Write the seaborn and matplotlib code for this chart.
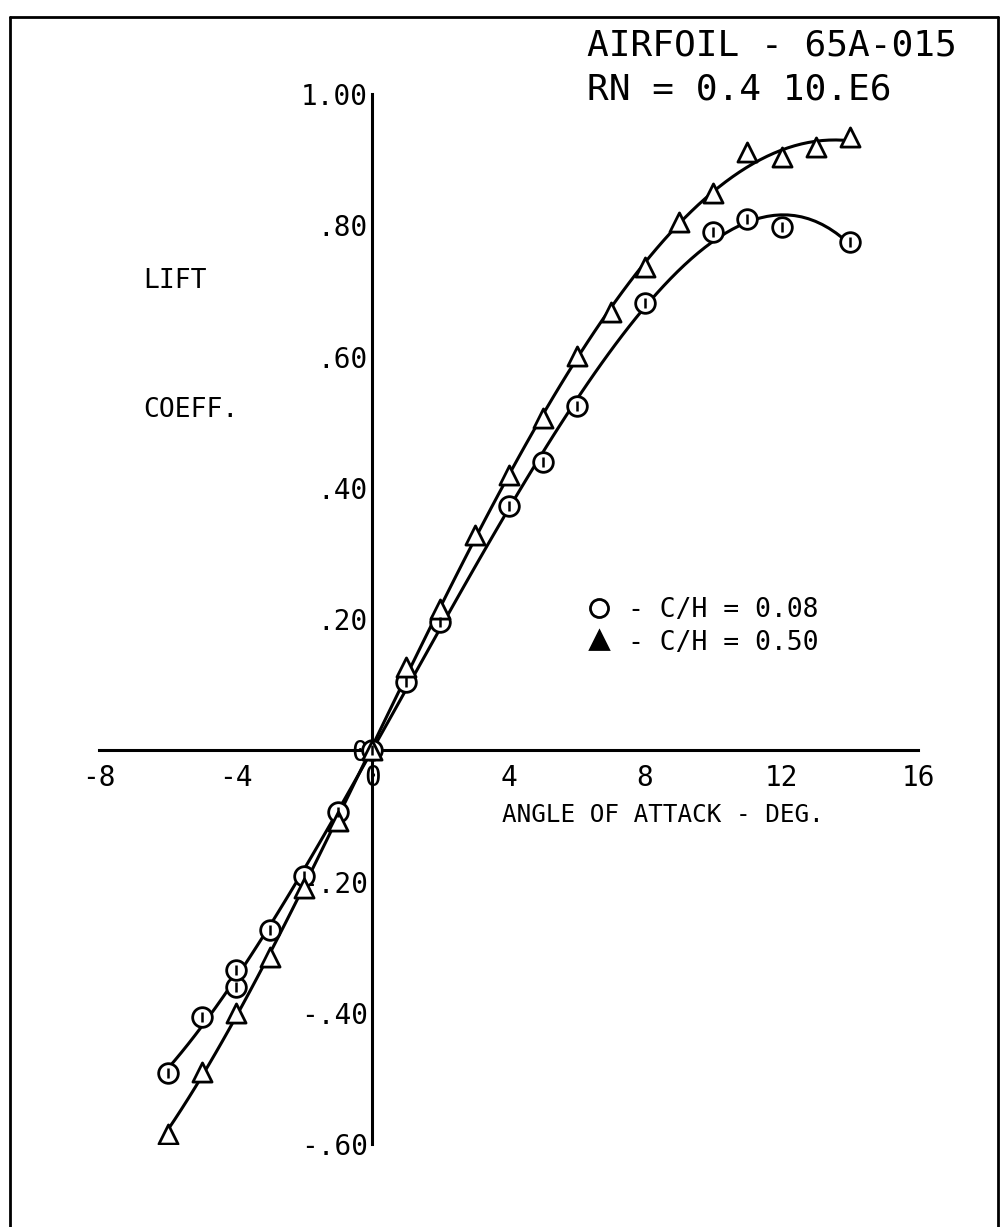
import numpy as np
import pandas as pd
import seaborn as sns
import matplotlib.pyplot as plt
from matplotlib.lines import Line2D

# lift coefficient readings, C/H = 0.08 (circles)
alpha_08 = [-6, -5, -4, -4, -3, -2, -1, 0, 1, 2, 4, 5, 6, 8, 10, 11, 12, 14]
cl_08 = [-0.492, -0.407, -0.360, -0.334, -0.274, -0.191, -0.094, 0.0, 0.104, 0.196,
         0.372, 0.439, 0.524, 0.682, 0.790, 0.810, 0.798, 0.775]

# C/H = 0.50 (triangles)
alpha_50 = [-6, -5, -4, -3, -2, -1, 0, 1, 2, 3, 4, 5, 6, 7, 8, 9, 10, 11, 12, 13, 14]
cl_50 = [-0.584, -0.490, -0.401, -0.315, -0.210, -0.107, 0.0, 0.127, 0.216, 0.328,
         0.419, 0.506, 0.601, 0.668, 0.737, 0.805, 0.849, 0.912, 0.904, 0.919, 0.934]

x_ticks = [-8, -4, 0, 4, 8, 12, 16]
x_labels = ['-8', '-4', '0', '4', '8', '12', '16']
y_ticks = [-0.6, -0.4, -0.2, 0.0, 0.2, 0.4, 0.6, 0.8, 1.0]
y_labels = ['-.60', '-.40', '-.20', '0', '.20', '.40', '.60', '.80', '1.00']

sns.set_style('white')
plt.rcParams['font.family'] = ['DejaVu Sans Mono']
plt.rcParams['text.color'] = 'black'

fig = plt.figure(figsize=(10.01, 12.27), dpi=100)
ax = fig.add_axes([0.0992, 0.0676, 0.8179, 0.8557])

# faired curves
sns.regplot(x=alpha_08, y=cl_08, order=5, scatter=False, ci=None, ax=ax,
            color='black', line_kws={'lw': 2.2})
sns.regplot(x=alpha_50, y=cl_50, order=5, scatter=False, ci=None, ax=ax,
            color='black', line_kws={'lw': 2.2})

# symbols
sns.scatterplot(x=alpha_08, y=cl_08, marker='o', s=200, facecolors='white',
                edgecolors='black', linewidths=2, ax=ax, zorder=3)
sns.scatterplot(x=alpha_08, y=cl_08, marker='|', s=45, color='black',
                linewidths=1.8, ax=ax, zorder=4)
sns.scatterplot(x=alpha_50, y=cl_50, marker='^', s=190, facecolors='white',
                edgecolors='black', linewidths=2, ax=ax, zorder=3)

ax.set_xlim(-8, 16)
ax.set_ylim(-0.6, 1.0)
for s in ['top', 'right']:
    ax.spines[s].set_visible(False)
ax.spines['left'].set_position(('data', 0))
ax.spines['bottom'].set_position(('data', 0))
for s in ['left', 'bottom']:
    ax.spines[s].set_linewidth(2.2)
    ax.spines[s].set_color('black')

ax.set_xticks(x_ticks)
ax.set_xticklabels(x_labels)
ax.set_yticks(y_ticks)
ax.set_yticklabels(y_labels)
ax.tick_params(axis='both', direction='in', length=7, width=2, colors='black',
               labelsize=20)
ax.tick_params(axis='x', pad=10)
ax.tick_params(axis='y', pad=3)
ax.set_xlabel('')
ax.set_ylabel('')

ax.text(3.8, -0.098, 'ANGLE OF ATTACK - DEG.', fontsize=17.5, va='center', ha='left')

fig.text(0.5864, 0.9633, 'AIRFOIL - 65A-015', fontsize=26, va='center', ha='left')
fig.text(0.5864, 0.9267, 'RN = 0.4 10.E6', fontsize=26, va='center', ha='left')
fig.text(0.1430, 1 - 281 / 1227, 'LIFT', fontsize=19, va='center', ha='left')
fig.text(0.1430, 1 - 410 / 1227, 'COEFF.', fontsize=19, va='center', ha='left')

handles = [
    Line2D([], [], ls='', marker='o', ms=13, mfc='white', mec='black', mew=2),
    Line2D([], [], ls='', marker='^', ms=13, mfc='black', mec='black', mew=2),
]
ax.legend(handles, ['- C/H = 0.08', '- C/H = 0.50'], loc='upper left',
          bbox_to_anchor=(0.585, 1 - 597 / 1227), bbox_transform=fig.transFigure,
          frameon=False, fontsize=19, handlelength=1.0, handletextpad=0.6,
          labelspacing=0.25, borderpad=0, borderaxespad=0)

# page frame
for xs, ys in [([0.010, 0.010], [-0.01, 0.986]), ([0.010, 0.997], [0.986, 0.986]),
               ([0.997, 0.997], [0.986, -0.01])]:
    fig.add_artist(Line2D(xs, ys, color='black', lw=2, transform=fig.transFigure))

fig.savefig('out.png', dpi=100)
